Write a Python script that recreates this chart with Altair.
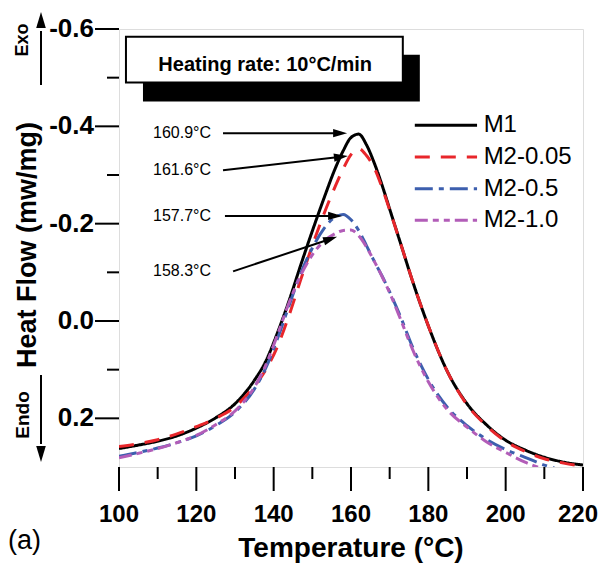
import math
import altair as alt
import pandas as pd

# ---------------- data ----------------
temps = [100, 105, 110, 115, 120, 125, 130, 135, 138, 141, 144, 147, 150, 153, 156,
         158, 160, 162, 164, 166, 168, 170, 173, 176, 180, 185, 190, 195, 200, 205,
         210, 215, 220]
m1 = [0.262, 0.255, 0.247, 0.236, 0.220, 0.199, 0.170, 0.122, 0.082, 0.024, -0.042,
      -0.115, -0.185, -0.252, -0.315, -0.350, -0.377, -0.384, -0.362, -0.325, -0.280,
      -0.230, -0.155, -0.080, 0.010, 0.105, 0.170, 0.213, 0.245, 0.265, 0.280, 0.290, 0.296]
m2_005 = [0.258, 0.252, 0.244, 0.232, 0.217, 0.200, 0.176, 0.134, 0.100, 0.052, -0.012,
          -0.085, -0.155, -0.220, -0.278, -0.313, -0.342, -0.354, -0.340, -0.315, -0.275,
          -0.228, -0.155, -0.080, 0.010, 0.105, 0.172, 0.215, 0.247, 0.268, 0.283, 0.292, 0.298]
m2_05 = [0.278, 0.270, 0.261, 0.250, 0.236, 0.215, 0.187, 0.140, 0.096, 0.036, -0.032,
         -0.098, -0.150, -0.190, -0.214, -0.219, -0.208, -0.186, -0.155, -0.123, -0.093,
         -0.060, -0.005, 0.055, 0.120, 0.178, 0.215, 0.243, 0.264, 0.280, 0.296, 0.308, 0.318]
m2_10 = [0.281, 0.272, 0.262, 0.250, 0.235, 0.213, 0.185, 0.136, 0.090, 0.028, -0.038,
         -0.094, -0.136, -0.164, -0.180, -0.186, -0.187, -0.175, -0.152, -0.123, -0.092,
         -0.058, 0.000, 0.060, 0.125, 0.183, 0.218, 0.248, 0.270, 0.290, 0.305, 0.318, 0.328]

series_names = ["M1", "M2-0.05", "M2-0.5", "M2-1.0"]
series_colors = ["#000000", "#e8262b", "#3d5fae", "#b25db8"]
series_dashes = [[1, 0], [15, 11], [18, 6, 5, 6], [13, 5, 6, 5, 6, 5]]

x_major = [100, 120, 140, 160, 180, 200, 220]
x_minor = [110, 130, 150, 170, 190, 210]
y_major = [-0.6, -0.4, -0.2, 0.0, 0.2]
y_minor = [-0.5, -0.3, -0.1, 0.1]
x_labels = ["100", "120", "140", "160", "180", "200", "220"]
y_labels = ["-0.6", "-0.4", "-0.2", "0.0", "0.2"]

peak_labels = ["160.9°C", "161.6°C", "157.7°C", "158.3°C"]
# arrow start (T, v) and tip (T, v)
arrow_start_T = [126.9, 126.9, 127.4, 129.5]
arrow_start_v = [-0.386, -0.310, -0.216, -0.102]
arrow_tip_T = [159.0, 159.2, 157.7, 156.4]
arrow_tip_v = [-0.386, -0.339, -0.216, -0.173]

# ---------------- layout ----------------
W, H = 464, 438
XDOM = [100, 220]
YDOM = [-0.6, 0.3]
FONT = "Liberation Sans"
MAJOR, MINOR = 24, 12
kx = W / (XDOM[1] - XDOM[0])
ky = H / (YDOM[1] - YDOM[0])

rows = []
for name, vals in zip(series_names, [m1, m2_005, m2_05, m2_10]):
    for t, v in zip(temps, vals):
        rows.append({"T": t, "v": v, "series": name})
df = pd.DataFrame(rows)

xs = alt.Scale(domain=XDOM, nice=False, zero=False)
ys = alt.Scale(domain=YDOM, nice=False, zero=False, reverse=True)
cscale = alt.Scale(domain=series_names, range=series_colors)
dscale = alt.Scale(domain=series_names, range=series_dashes)


def X(field):
    return alt.X(field, scale=xs, axis=None)


def Y(field):
    return alt.Y(field, scale=ys, axis=None)


lines = alt.Chart(df).mark_line(clip=True, strokeWidth=3, interpolate="monotone").encode(
    x=X("T:Q"), y=Y("v:Q"),
    color=alt.Color("series:N", scale=cscale, legend=None),
    strokeDash=alt.StrokeDash("series:N", scale=dscale, legend=None),
    order=alt.Order("T:Q"),
)

# axis ticks (segments in data space, extending outside the plot) and labels
tick_rows = []
for t in x_major + x_minor:
    ln = MAJOR if t in x_major else MINOR
    tick_rows.append({"ta": t, "tb": t, "va": YDOM[1], "vb": YDOM[1] + ln / ky})
for v in y_major + y_minor:
    ln = MAJOR if v in y_major else MINOR
    tick_rows.append({"ta": XDOM[0], "tb": XDOM[0] - ln / kx, "va": v, "vb": v})
ticks_df = pd.DataFrame(tick_rows)
ticks = alt.Chart(ticks_df).mark_rule(color="black", strokeWidth=2).encode(
    x=X("ta:Q"), x2="tb", y=Y("va:Q"), y2="vb")

xl_df = pd.DataFrame({"x": x_major, "lab": x_labels})
xlab = alt.Chart(xl_df.iloc[:-1]).mark_text(font=FONT, fontSize=24, fontWeight="bold", color="black",
                                            align="center", baseline="top").encode(
    x=X("x:Q"), y=alt.value(H + MAJOR + 12), text="lab:N")
xlab_last = alt.Chart(xl_df.iloc[-1:]).mark_text(font=FONT, fontSize=24, fontWeight="bold", color="black",
                                                 align="right", baseline="top", dx=15).encode(
    x=X("x:Q"), y=alt.value(H + MAJOR + 12), text="lab:N")
yl_df = pd.DataFrame({"y": y_major, "lab": y_labels})
ylab = alt.Chart(yl_df).mark_text(font=FONT, fontSize=26, fontWeight="bold", color="black",
                                  align="right", baseline="middle").encode(
    y=Y("y:Q"), x=alt.value(-MAJOR - 1), text="lab:N")

# heating-rate box
shadow_df = pd.DataFrame({"x1": [106.2], "x2": [177.8], "y1": [-0.547], "y2": [-0.451]})
box_df = pd.DataFrame({"x1": [101.8], "x2": [173.4], "y1": [-0.584], "y2": [-0.490]})
shadow = alt.Chart(shadow_df).mark_rect(color="black").encode(
    x=X("x1:Q"), x2="x2", y=Y("y1:Q"), y2="y2")
box = alt.Chart(box_df).mark_rect(fill="white", stroke="black", strokeWidth=2).encode(
    x=X("x1:Q"), x2="x2", y=Y("y1:Q"), y2="y2")
box_text = alt.Chart(pd.DataFrame({"x": [137.8], "y": [-0.526], "t": ["Heating rate: 10°C/min"]})).mark_text(
    font=FONT, fontSize=20, fontWeight="bold", color="black", align="center", baseline="middle").encode(
    x=X("x:Q"), y=Y("y:Q"), text="t:N")

# peak annotations
HEAD = 14
arr_rows = []
for lab, t0, v0, t1, v1 in zip(peak_labels, arrow_start_T, arrow_start_v, arrow_tip_T, arrow_tip_v):
    dx = (t1 - t0) * kx
    dy = (v1 - v0) * ky
    L = math.hypot(dx, dy)
    ux, uy = dx / L, dy / L
    ang = math.degrees(math.atan2(dx, -dy)) % 360
    bt = t1 - (HEAD - 3) * ux / kx
    bv = v1 - (HEAD - 3) * uy / ky
    arr_rows.append({"label": lab, "t0": t0, "v0": v0, "t1": t1, "v1": v1, "bt": bt, "bv": bv,
                     "ang": ang, "tx": 108.8})
arr_df = pd.DataFrame(arr_rows)
HEAD_PATH = "M0,0L-0.6,2L0.6,2Z"

shafts = alt.Chart(arr_df).mark_rule(color="black", strokeWidth=2).encode(
    x=X("t0:Q"), x2="bt", y=Y("v0:Q"), y2="bv")
heads = alt.Chart(arr_df).mark_point(shape=HEAD_PATH, filled=True, color="black", opacity=1,
                                     size=HEAD * HEAD, strokeWidth=0).encode(
    x=X("t1:Q"), y=Y("v1:Q"), angle=alt.Angle("ang:Q", scale=None))
peak_text = alt.Chart(arr_df).mark_text(font=FONT, fontSize=16, color="black", align="left",
                                        baseline="middle").encode(
    x=X("tx:Q"), y=Y("v0:Q"), text="label:N")

# manual legend
leg_df = pd.DataFrame({"series": series_names,
                       "y": [-0.402 + 0.065 * i for i in range(len(series_names))],
                       "lx1": [176.5] * 4, "lx2": [192.6] * 4, "tx": [194.3] * 4})
leg_lines = alt.Chart(leg_df).mark_rule(strokeWidth=3).encode(
    x=X("lx1:Q"), x2="lx2", y=Y("y:Q"),
    color=alt.Color("series:N", scale=cscale, legend=None),
    strokeDash=alt.StrokeDash("series:N", scale=dscale, legend=None))
leg_text = alt.Chart(leg_df).mark_text(font=FONT, fontSize=24, color="black", align="left",
                                       baseline="middle").encode(
    x=X("tx:Q"), y=Y("y:Q"), text="series:N")


# outside texts (pixel positions relative to plot origin)
def ptext(txt, x, y, size, weight="normal", angle=0, align="center", baseline="middle"):
    return alt.Chart(pd.DataFrame({"t": [txt]})).mark_text(
        font=FONT, fontSize=size, fontWeight=weight, angle=angle, align=align,
        baseline=baseline, color="black").encode(
        x=alt.value(x), y=alt.value(y), text="t:N")


y_title = ptext("Heat Flow (mw/mg)", -91, 216, 27, "bold", 270)
x_title = ptext("Temperature (°C)", W / 2, 528, 28, "bold", 0, "center", "alphabetic")
panel = ptext("(a)", -111, 520, 27, "normal", 0, "left", "alphabetic")
exo = ptext("Exo", -96, 11, 18, "bold", 270)
endo = ptext("Endo", -96, 386, 19, "bold", 270)

side_df = pd.DataFrame({"lab": ["Exo", "Endo"]})
exo_shaft = alt.Chart(side_df.iloc[[0]]).mark_rule(color="black", strokeWidth=2).encode(
    x=alt.value(-78), y=alt.value(56), y2=alt.value(2))
exo_head = alt.Chart(side_df.iloc[[0]]).mark_point(shape=HEAD_PATH, filled=True, color="black",
                                                   opacity=1, size=256, strokeWidth=0).encode(
    x=alt.value(-78), y=alt.value(-17))
endo_shaft = alt.Chart(side_df.iloc[[1]]).mark_rule(color="black", strokeWidth=2).encode(
    x=alt.value(-78), y=alt.value(346), y2=alt.value(415))
endo_head = alt.Chart(side_df.iloc[[1]]).mark_point(shape=HEAD_PATH, filled=True, color="black",
                                                    opacity=1, size=256, strokeWidth=0, angle=180).encode(
    x=alt.value(-78), y=alt.value(433))

chart = alt.layer(
    shadow, box, box_text, lines, ticks, xlab, xlab_last, ylab,
    shafts, heads, peak_text, leg_lines, leg_text,
    y_title, x_title, panel, exo, endo, exo_shaft, exo_head, endo_shaft, endo_head,
).properties(
    width=W, height=H,
    autosize=alt.AutoSizeParams(type="none"),
    padding={"left": 111, "top": 21, "right": 15, "bottom": 96},
).configure_view(stroke="black", strokeWidth=2).configure(background="white")

chart.save("out.html", embed_options={"renderer": "svg", "actions": False})
